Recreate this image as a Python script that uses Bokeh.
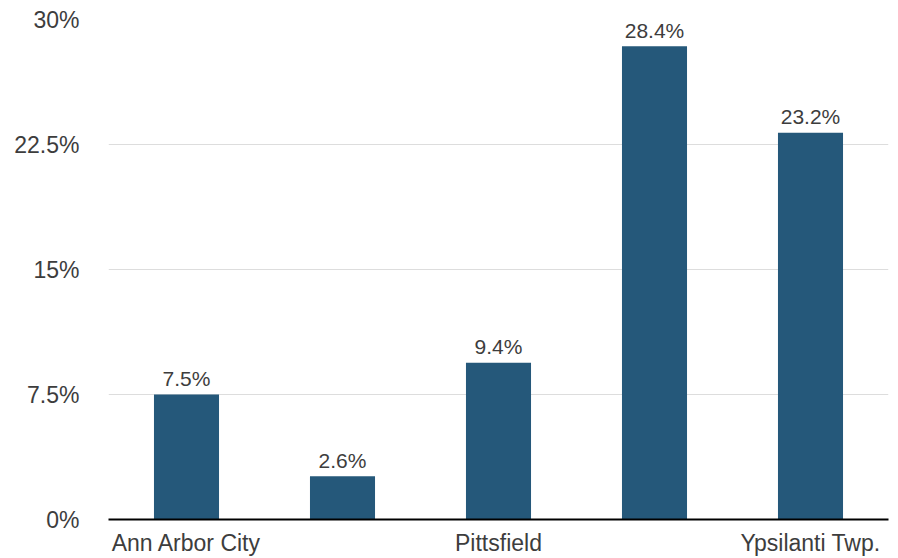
from bokeh.plotting import figure
from bokeh.models import ColumnDataSource, FactorRange, Range1d, FixedTicker, CustomJSTickFormatter
from bokeh.core.properties import value
from bokeh.embed import file_html
from bokeh.resources import INLINE

# Share of residents, by municipality (percent)
categories = ["Ann Arbor City", "Ann Arbor Twp.", "Pittsfield", "Ypsilanti City", "Ypsilanti Twp."]
shares = [7.5, 2.6, 9.4, 28.4, 23.2]
share_labels = ["7.5%", "2.6%", "9.4%", "28.4%", "23.2%"]
y_ticks = [0, 7.5, 15, 22.5, 30]
# only every other category name is printed under the axis
shown_names = ["Ann Arbor City", "Pittsfield", "Ypsilanti Twp."]

FONT = "Liberation Sans"
TEXT = "#3d3d3d"
BAR = "#25587a"

source = ColumnDataSource(dict(cat=categories, val=shares, lab=share_labels))

p = figure(
    width=898, height=558,
    x_range=FactorRange(*categories, range_padding=0),
    y_range=Range1d(0, 30),
    output_backend="svg", toolbar_location=None, tools="",
    min_border_left=108, min_border_right=10,
    min_border_top=19, min_border_bottom=39,
)
p.outline_line_color = None
p.background_fill_color = "white"
p.border_fill_color = "white"

p.vbar(x="cat", top="val", width=0.417, source=source,
       fill_color=BAR, line_color=None)

p.text(x="cat", y="val", text="lab", source=source,
       text_align="center", text_baseline="alphabetic", y_offset=-16,
       text_font=value(FONT), text_font_size="21px", text_color=TEXT)

# y axis: labels only, light horizontal grid
p.yaxis.ticker = FixedTicker(ticks=y_ticks)
p.yaxis.formatter = CustomJSTickFormatter(code='return tick + "%";')
p.yaxis.axis_line_color = None
p.yaxis.major_tick_line_color = None
p.yaxis.minor_tick_line_color = None
p.yaxis.major_tick_out = 0
p.yaxis.major_tick_in = 0
p.yaxis.major_label_standoff = 29
p.yaxis.major_label_text_font = FONT
p.yaxis.major_label_text_font_size = "23px"
p.yaxis.major_label_text_color = TEXT
p.ygrid.ticker = FixedTicker(ticks=y_ticks)
p.ygrid.grid_line_color = "#dddddd"
p.ygrid.grid_line_width = 1

# x axis: solid black baseline, names under alternate bars
p.xgrid.grid_line_color = None
p.xaxis.axis_line_color = "black"
p.xaxis.axis_line_width = 2
p.xaxis.major_tick_line_color = None
p.xaxis.minor_tick_line_color = None
p.xaxis.major_tick_out = 0
p.xaxis.major_tick_in = 0
p.xaxis.major_label_standoff = 10
p.xaxis.major_label_text_font = FONT
p.xaxis.major_label_text_font_size = "23px"
p.xaxis.major_label_text_color = TEXT
p.xaxis.formatter = CustomJSTickFormatter(
    args=dict(shown=shown_names),
    code='return shown.includes(tick) ? tick : "";',
)

open("out.html", "w").write(file_html(p, INLINE))
